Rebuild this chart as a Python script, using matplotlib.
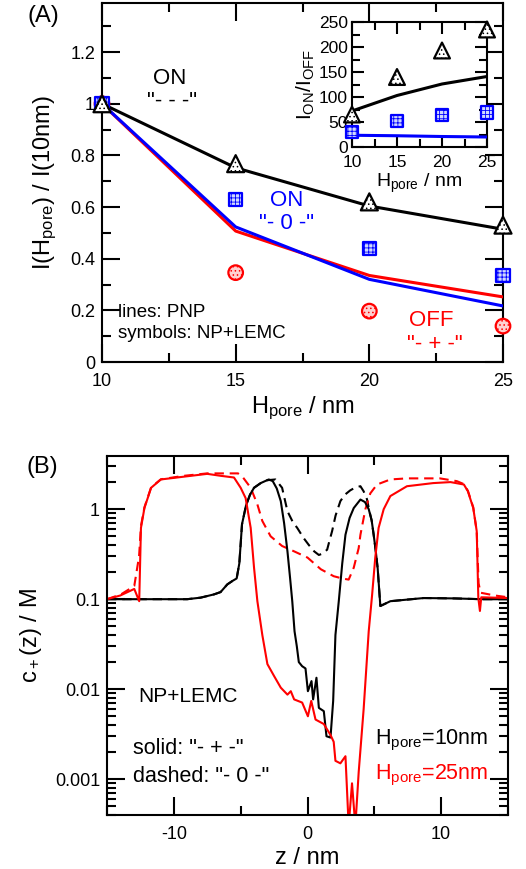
"""
Two-panel figure: (A) normalised current vs pore length with ON/OFF ratio inset,
(B) cation concentration profiles c+(z) on log scale.
"""

import matplotlib

matplotlib.use("Agg")
import matplotlib.pyplot as plt
from matplotlib.ticker import FixedLocator, MultipleLocator, LogLocator, NullFormatter, FuncFormatter

plt.rcParams["font.family"] = ["Liberation Sans", "DejaVu Sans"]
plt.rcParams["mathtext.fontset"] = "custom"
plt.rcParams["mathtext.rm"] = "Liberation Sans"
plt.rcParams["mathtext.it"] = "Liberation Sans"
plt.rcParams["axes.unicode_minus"] = False
plt.rcParams["hatch.linewidth"] = 0.6

# ---- panel A data -------------------------------------------------------
H_PORE = [10, 15, 20, 25]

# NP+LEMC symbols
sym_on_mmm = [1.0, 0.768, 0.62, 0.53]    # "- - -" triangles
sym_on_m0m = [1.0, 0.63, 0.439, 0.335]   # "- 0 -" squares
sym_off_mpm = [1.0, 0.346, 0.197, 0.139]  # "- + -" circles

# PNP lines
pnp_on_mmm = [1.0, 0.752, 0.604, 0.514]
pnp_on_m0m = [1.0, 0.523, 0.32, 0.217]
pnp_off_mpm = [1.0, 0.507, 0.335, 0.252]

# inset: I_ON / I_OFF
ratio_sym_mmm = [65, 140, 193, 235]
ratio_sym_m0m = [30, 52, 64, 69]
ratio_pnp_mmm = [72, 103, 126, 141]
ratio_pnp_m0m = [23.5, 22.5, 21, 20]

# ---- panel B data -------------------------------------------------------
z_h10_solid = [-15, -12, -9, -8, -7, -6.5, -6, -5.6, -5.3, -5.1, -4.9, -4.6, -4.3, -4.0, -3.5,
               -2.9, -2.6, -2.3, -2.0, -1.75, -1.5, -1.3, -1.14, -0.97, -0.8, -0.65, -0.4,
               -0.15, 0.03, 0.3, 0.42, 0.67, 0.85, 1.22, 1.42, 1.72, 1.92, 2.09, 2.34, 2.6,
               2.84, 3.15, 3.46, 3.96, 4.3, 4.58, 4.8, 4.95, 5.1, 5.25, 5.45, 6.2, 8.7, 11, 13, 15]
c_h10_solid = [0.1, 0.1, 0.1, 0.104, 0.113, 0.12, 0.146, 0.16, 0.17, 0.25, 0.68, 1.1, 1.45, 1.73,
               1.95, 2.14, 2.05, 1.7, 1.23, 0.7, 0.34, 0.17, 0.095, 0.044, 0.03, 0.02, 0.018,
               0.017, 0.0095, 0.0123, 0.0077, 0.0134, 0.0062, 0.0057, 0.003, 0.0029, 0.0074,
               0.04, 0.095, 0.25, 0.52, 0.8, 1.03, 1.28, 1.2, 1.0, 0.75, 0.52, 0.35, 0.22,
               0.084, 0.095, 0.103, 0.102, 0.1, 0.1]

z_h10_dashed = [-15, -12, -9, -8, -7, -6.5, -6, -5.6, -5.3, -5.1, -4.9, -4.6, -4.3, -4.0, -3.5,
                -3.0, -2.4, -1.9, -1.5, -1.1, -0.77, -0.3, 0.1, 0.5, 0.85, 1.1, 1.47, 1.65,
                1.84, 2.1, 2.46, 2.8, 3.2, 3.6, 3.96, 4.2, 4.45, 4.6, 4.8, 4.95, 5.1, 5.25,
                5.45, 6.2, 8.7, 11, 13, 15]
c_h10_dashed = [0.1, 0.1, 0.1, 0.104, 0.113, 0.12, 0.146, 0.16, 0.17, 0.25, 0.68, 1.1, 1.45,
                1.73, 1.95, 2.1, 2.14, 1.73, 0.95, 0.72, 0.62, 0.48, 0.40, 0.34, 0.31, 0.32,
                0.355, 0.45, 0.57, 0.85, 1.23, 1.45, 1.62, 1.75, 1.8, 1.58, 1.29, 1.0, 0.75,
                0.52, 0.35, 0.22, 0.084, 0.095, 0.103, 0.102, 0.1, 0.1]

z_h25_solid = [-15, -14, -12.96, -12.59, -12.46, -12.2, -11.7, -10.97, -9.23, -7.5, -6.5, -5.5,
               -5.0, -4.63, -4.25, -4.0, -3.75, -3.38, -3.0, -2.5, -2.0, -1.5, -1.25, -1.0,
               -0.4, 0.03, 0.28, 0.6, 1.22, 1.72, 1.96, 2.09, 2.46, 2.84, 3.08, 3.33, 3.58,
               3.83, 4.2, 4.58, 4.83, 5.07, 5.32, 5.7, 6.2, 7.44, 9.4, 10.7, 11.7, 12.0, 12.4,
               12.66, 12.78, 12.9, 13.0, 14, 15]
c_h25_solid = [0.1, 0.11, 0.13, 0.095, 0.62, 1.03, 1.73, 2.14, 2.3, 2.47, 2.35, 2.25, 1.73, 1.33,
               0.62, 0.224, 0.095, 0.04, 0.019, 0.014, 0.0104, 0.0087, 0.0095, 0.0077, 0.0071,
               0.005, 0.0074, 0.0046, 0.0041, 0.0031, 0.0026, 0.0016, 0.0015, 0.0018, 0.0003,
               0.0009, 0.0003, 0.0012, 0.006, 0.044, 0.11, 0.29, 0.62, 1.0, 1.4, 1.8, 1.95,
               2.0, 1.88, 1.58, 1.03, 0.57, 0.103, 0.074, 0.105, 0.104, 0.103]

z_h25_dashed = [-15, -13.96, -12.96, -12.6, -12.46, -12.2, -11.7, -10.97, -9.23, -7.5, -6.0,
                -5.2, -4.87, -4.25, -3.75, -3.38, -2.76, -1.9, -1.0, 0.0, 1.0, 1.96, 2.6,
                3.08, 3.46, 3.83, 3.96, 4.33, 4.7, 5.2, 6.2, 7.44, 9.9, 11.17, 11.7, 12.0,
                12.4, 12.66, 12.8, 12.95, 14, 15]
c_h25_dashed = [0.1, 0.113, 0.14, 0.3, 0.65, 1.05, 1.75, 2.15, 2.35, 2.5, 2.5, 2.5, 2.3, 1.73,
                1.13, 0.74, 0.5, 0.39, 0.34, 0.29, 0.215, 0.18, 0.17, 0.165, 0.224, 0.37,
                0.52, 1.0, 1.5, 1.88, 2.14, 2.2, 2.2, 2.05, 1.9, 1.6, 1.05, 0.57, 0.15, 0.118,
                0.11, 0.105]

Y_TICKS_B = [0.001, 0.01, 0.1, 1]

BLACK = "black"
BLUE = "#0000ff"
RED = "#ff0000"

FIG_W, FIG_H = 526, 869
DPI = 100


def _frac(left, top, right, bottom):
    return [left / FIG_W, 1 - bottom / FIG_H, (right - left) / FIG_W, (bottom - top) / FIG_H]


def _style_axes(ax, major_len=13, minor_len=6.5, labelsize=13):
    for sp in ax.spines.values():
        sp.set_linewidth(1.5)
    ax.tick_params(which="both", direction="in", top=True, right=True, width=1.5,
                   labelsize=labelsize)
    ax.tick_params(which="major", length=major_len)
    ax.tick_params(which="minor", length=minor_len)
    ax.tick_params(axis="x", which="major", pad=8)
    ax.tick_params(axis="y", which="major", pad=5)


def _hatched(ax, x, y, marker, size, color, face, hatch, zorder=5):
    with plt.rc_context({"hatch.color": color}):
        ax.scatter(x, y, s=size, marker=marker, facecolors=face, edgecolors=color,
                   linewidths=1.6, hatch=hatch, zorder=zorder, clip_on=False)


def plot_panel_a(fig):
    ax = fig.add_axes(_frac(102, 3, 503, 362))
    ax.plot(H_PORE, pnp_off_mpm, color=RED, lw=2.2, zorder=3)
    ax.plot(H_PORE, pnp_on_m0m, color=BLUE, lw=2.2, zorder=3)
    ax.plot(H_PORE, pnp_on_mmm, color=BLACK, lw=2.2, zorder=3)
    _hatched(ax, H_PORE, sym_off_mpm, "o", 110, RED, "#ffd0d0", "....")
    _hatched(ax, H_PORE, sym_on_m0m, "s", 95, BLUE, "#d0d8ff", "++++")
    _hatched(ax, H_PORE, sym_on_mmm, "^", 150, BLACK, "white", "....", zorder=6)

    ax.set_xlim(10, 25)
    ax.set_ylim(0, 1.39)
    ax.xaxis.set_major_locator(MultipleLocator(5))
    ax.xaxis.set_minor_locator(MultipleLocator(2.5))
    ax.yaxis.set_major_locator(FixedLocator([0, 0.2, 0.4, 0.6, 0.8, 1.0, 1.2]))
    ax.yaxis.set_minor_locator(MultipleLocator(0.1))
    ax.yaxis.set_major_formatter(FuncFormatter(lambda v, p: "0" if v == 0 else ("1" if abs(v - 1) < 1e-9 else f"{v:.1f}")))
    _style_axes(ax)
    ax.set_xlabel(r"H$_\mathrm{pore}$ / nm", fontsize=17, labelpad=3)
    ax.set_ylabel(r"I(H$_\mathrm{pore}$) / I(10nm)", fontsize=17, labelpad=8)

    ax.text(0.17, 0.79, "ON", transform=ax.transAxes, fontsize=16, ha="center", va="center")
    ax.text(0.175, 0.725, '"- - -"', transform=ax.transAxes, fontsize=16, ha="center", va="center")
    ax.text(0.46, 0.45, "ON", transform=ax.transAxes, fontsize=16, ha="center", va="center", color=BLUE)
    ax.text(0.46, 0.385, '"- 0 -"', transform=ax.transAxes, fontsize=16, ha="center", va="center", color=BLUE)
    ax.text(0.82, 0.115, "OFF", transform=ax.transAxes, fontsize=16, ha="center", va="center", color=RED)
    ax.text(0.83, 0.05, '"- + -"', transform=ax.transAxes, fontsize=16, ha="center", va="center", color=RED)
    ax.text(0.04, 0.137, "lines: PNP", transform=ax.transAxes, fontsize=13.5, ha="left", va="center")
    ax.text(0.04, 0.079, "symbols: NP+LEMC", transform=ax.transAxes, fontsize=13.5, ha="left", va="center")
    fig.text(43 / FIG_W, 1 - 16 / FIG_H, "(A)", fontsize=17, ha="center", va="center")

    ins = fig.add_axes(_frac(352, 22, 487, 147))
    ins.plot(H_PORE, ratio_pnp_mmm, color=BLACK, lw=2.2, zorder=3)
    ins.plot(H_PORE, ratio_pnp_m0m, color=BLUE, lw=2.2, zorder=3)
    _hatched(ins, H_PORE, ratio_sym_m0m, "s", 80, BLUE, "#d0d8ff", "++++")
    _hatched(ins, H_PORE, ratio_sym_mmm, "^", 130, BLACK, "white", "....")
    ins.set_xlim(10, 25)
    ins.set_ylim(0, 250)
    ins.xaxis.set_major_locator(MultipleLocator(5))
    ins.xaxis.set_minor_locator(MultipleLocator(2.5))
    ins.yaxis.set_major_locator(MultipleLocator(50))
    ins.yaxis.set_minor_locator(MultipleLocator(25))
    _style_axes(ins, major_len=8.5, minor_len=6, labelsize=12.5)
    ins.tick_params(axis="x", which="major", pad=6)
    ins.tick_params(axis="y", which="major", pad=3)
    ins.set_xlabel(r"H$_\mathrm{pore}$ / nm", fontsize=14, labelpad=1)
    ins.set_ylabel(r"I$_\mathrm{ON}$/I$_\mathrm{OFF}$", fontsize=15, labelpad=1)


def plot_panel_b(fig):
    ax = fig.add_axes(_frac(107, 456, 508, 815))
    ax.plot(z_h10_dashed, c_h10_dashed, color=BLACK, lw=1.5, ls=(0, (4.5, 2.8)))
    ax.plot(z_h25_dashed, c_h25_dashed, color=RED, lw=1.5, ls=(0, (4.5, 2.8)))
    ax.plot(z_h10_solid, c_h10_solid, color=BLACK, lw=1.5)
    ax.plot(z_h25_solid, c_h25_solid, color=RED, lw=1.5)

    ax.set_yscale("log")
    ax.set_xlim(-15, 15)
    ax.set_ylim(4e-4, 3.9)
    ax.xaxis.set_major_locator(MultipleLocator(10))
    ax.xaxis.set_minor_locator(MultipleLocator(5))
    ax.yaxis.set_major_locator(FixedLocator(Y_TICKS_B))
    ax.yaxis.set_minor_locator(LogLocator(base=10, subs=range(2, 10)))
    ax.yaxis.set_minor_formatter(NullFormatter())
    ax.yaxis.set_major_formatter(FuncFormatter(lambda v, p: f"{v:g}"))
    _style_axes(ax)
    ax.set_xlabel("z / nm", fontsize=17, labelpad=3)
    ax.set_ylabel(r"c$_+$(z) / M", fontsize=17, labelpad=8)

    ax.text(138 / FIG_W, 1 - 697 / FIG_H, "NP+LEMC", transform=fig.transFigure, fontsize=15,
            ha="left", va="center")
    ax.text(133 / FIG_W, 1 - 748 / FIG_H, 'solid: "- + -"', transform=fig.transFigure,
            fontsize=15.5, ha="left", va="center")
    ax.text(133 / FIG_W, 1 - 777 / FIG_H, 'dashed: "- 0 -"', transform=fig.transFigure,
            fontsize=15.5, ha="left", va="center")
    ax.text(375 / FIG_W, 1 - 740 / FIG_H, r"H$_\mathrm{pore}$=10nm", transform=fig.transFigure,
            fontsize=15.5, ha="left", va="center")
    ax.text(375 / FIG_W, 1 - 775 / FIG_H, r"H$_\mathrm{pore}$=25nm", transform=fig.transFigure,
            fontsize=15.5, ha="left", va="center", color=RED)
    fig.text(42 / FIG_W, 1 - 467 / FIG_H, "(B)", fontsize=17, ha="center", va="center")


def main():
    fig = plt.figure(figsize=(FIG_W / DPI, FIG_H / DPI), dpi=DPI)
    plot_panel_a(fig)
    plot_panel_b(fig)
    fig.savefig("out.png", dpi=DPI)
    plt.close(fig)


if __name__ == "__main__":
    main()
